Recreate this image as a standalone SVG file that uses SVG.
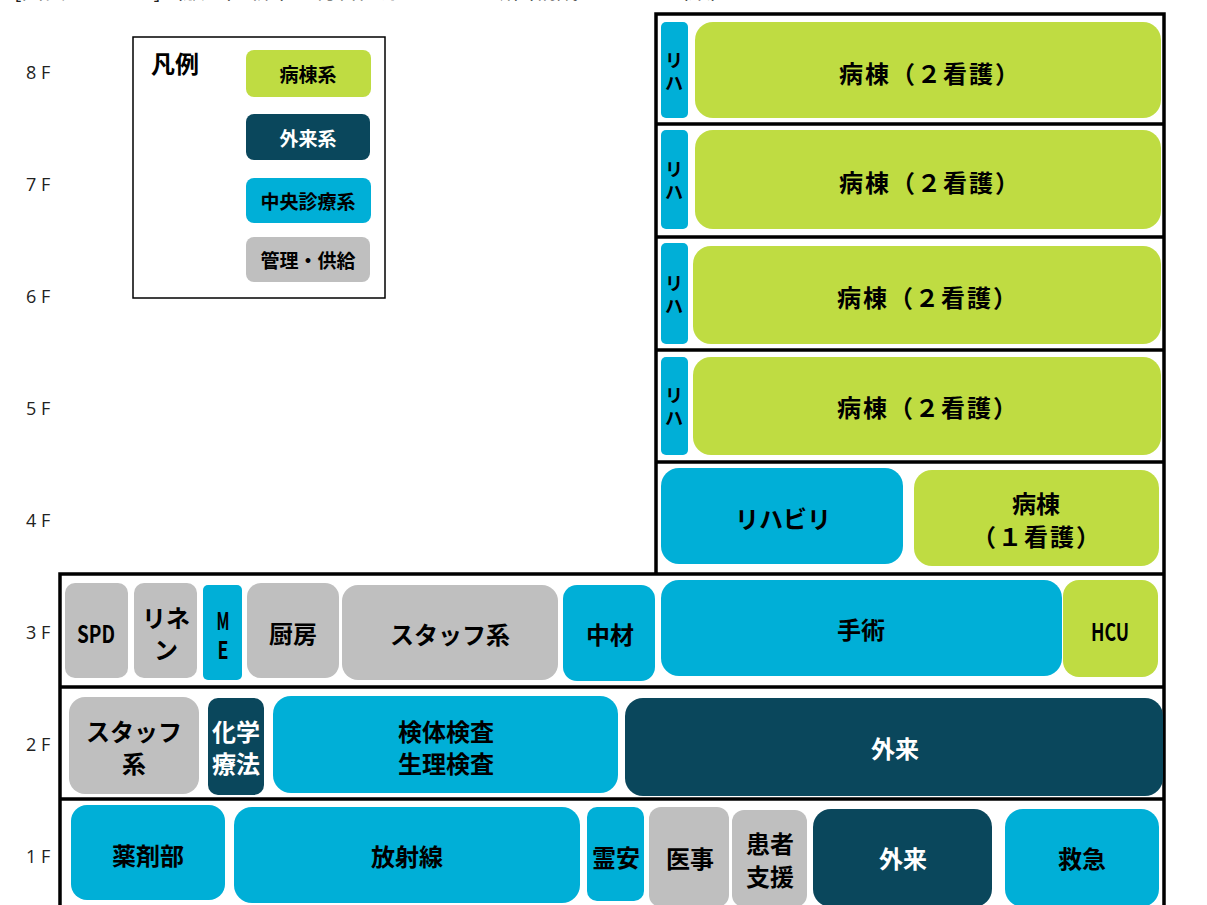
<svg xmlns="http://www.w3.org/2000/svg" width="1207" height="905" viewBox="0 0 1207 905">
<style>
.g{fill:#BFDC42}
.c{fill:#00AFD7}
.d{fill:#0A475C}
.s{fill:#BFBFBF}
.t{font-family:"Noto Sans CJK JP","Noto Sans",sans-serif;font-weight:bold;font-size:24px;fill:#000;text-anchor:middle;dominant-baseline:central}
.tw{fill:#fff}
.tl{font-size:19px}
.v{font-size:18px}
.ls{letter-spacing:2px}
.fl{font-family:"Open Sans","Noto Sans",sans-serif;font-size:18px;fill:#222}
.frame{fill:none;stroke:#000;stroke-width:3.5}
</style>
<rect width="1207" height="905" fill="#fff"/>
<text x="14" y="-2" font-family="Noto Sans CJK JP, sans-serif" font-size="22" fill="#222">[図表　　　　]（敷地）新市立総合医療センター断面構成イメージ（案）</text>

<g id="floor-labels">
<text class="fl" x="26" y="79">8 F</text>
<text class="fl" x="26" y="191">7 F</text>
<text class="fl" x="26" y="303">6 F</text>
<text class="fl" x="26" y="415">5 F</text>
<text class="fl" x="26" y="527">4 F</text>
<text class="fl" x="26" y="639">3 F</text>
<text class="fl" x="26" y="751">2 F</text>
<text class="fl" x="26" y="863">1 F</text>
</g>

<g id="legend">
<rect x="133" y="37" width="252" height="261" fill="#fff" stroke="#000" stroke-width="1.5"/>
<text class="t" x="175" y="62" font-size="22">凡例</text>
<rect class="g" x="246" y="50" width="125" height="47" rx="8"/>
<text class="t tl" x="308" y="73">病棟系</text>
<rect class="d" x="246" y="114" width="124" height="46" rx="8"/>
<text class="t tl tw" x="308" y="137">外来系</text>
<rect class="c" x="246" y="178" width="125" height="45" rx="8"/>
<text class="t tl" x="308" y="200">中央診療系</text>
<rect class="s" x="246" y="237" width="124" height="45" rx="8"/>
<text class="t tl" x="308" y="259">管理・供給</text>
</g>

<g id="connectors">
<path class="frame" d="M656 573 V14 H1164 V905 M656 124 H1164 M656 237 H1164 M656 350 H1164 M656 462 H1164 M60 905 V574 H1164 M60 687 H1164 M60 799 H1164"/>
</g>

<g id="f8-riha"><rect class="c" x="661" y="22" width="27" height="96" rx="5"/><text class="t v"><tspan x="674" y="59">リ</tspan><tspan x="674" y="82">ハ</tspan></text></g>
<g id="f8-ward"><rect class="g" x="695" y="22" width="466" height="96" rx="18"/><text class="t ls" x="930" y="72">病棟（２看護）</text></g>
<g id="f7-riha"><rect class="c" x="661" y="130" width="27" height="99" rx="5"/><text class="t v"><tspan x="674" y="168">リ</tspan><tspan x="674" y="191">ハ</tspan></text></g>
<g id="f7-ward"><rect class="g" x="695" y="130" width="466" height="99" rx="18"/><text class="t ls" x="930" y="181">病棟（２看護）</text></g>
<g id="f6-riha"><rect class="c" x="661" y="243" width="27" height="101" rx="5"/><text class="t v"><tspan x="674" y="282">リ</tspan><tspan x="674" y="305">ハ</tspan></text></g>
<g id="f6-ward"><rect class="g" x="693" y="246" width="468" height="98" rx="18"/><text class="t ls" x="928" y="296">病棟（２看護）</text></g>
<g id="f5-riha"><rect class="c" x="661" y="357" width="27" height="98" rx="5"/><text class="t v"><tspan x="674" y="394">リ</tspan><tspan x="674" y="417">ハ</tspan></text></g>
<g id="f5-ward"><rect class="g" x="693" y="357" width="468" height="98" rx="18"/><text class="t ls" x="928" y="406">病棟（２看護）</text></g>
<g id="f4-rehab"><rect class="c" x="661" y="468" width="242" height="96" rx="18"/><text class="t" x="783" y="517">リハビリ</text></g>
<g id="f4-ward"><rect class="g" x="914" y="470" width="245" height="96" rx="18"/><text class="t"><tspan x="1036" y="502">病棟</tspan><tspan class="ls" x="1037" y="535">（１看護）</tspan></text></g>

<g id="f3-spd"><rect class="s" x="65" y="583" width="63" height="95" rx="10"/><text class="t" x="96" y="632" font-size="22" textLength="38" lengthAdjust="spacingAndGlyphs">SPD</text></g>
<g id="f3-linen"><rect class="s" x="134" y="583" width="63" height="95" rx="10"/><text class="t"><tspan x="166" y="616">リネ</tspan><tspan x="166" y="648">ン</tspan></text></g>
<g id="f3-me"><rect class="c" x="203" y="585" width="39" height="95" rx="5"/><text class="t" font-size="22"><tspan x="223" y="619" textLength="13" lengthAdjust="spacingAndGlyphs">M</tspan><tspan x="223" y="648" textLength="11" lengthAdjust="spacingAndGlyphs">E</tspan></text></g>
<g id="f3-kitchen"><rect class="s" x="247" y="583" width="92" height="95" rx="14"/><text class="t" x="293" y="632">厨房</text></g>
<g id="f3-staff"><rect class="s" x="342" y="585" width="216" height="95" rx="16"/><text class="t" x="450" y="633">スタッフ系</text></g>
<g id="f3-chuzai"><rect class="c" x="563" y="585" width="92" height="96" rx="14"/><text class="t" x="610" y="633">中材</text></g>
<g id="f3-surgery"><rect class="c" x="661" y="580" width="401" height="96" rx="18"/><text class="t" x="861" y="628">手術</text></g>
<g id="f3-hcu"><rect class="g" x="1063" y="580" width="95" height="97" rx="16"/><text class="t" x="1110" y="630" font-size="22" textLength="38" lengthAdjust="spacingAndGlyphs">HCU</text></g>

<g id="f2-staff"><rect class="s" x="69" y="697" width="130" height="97" rx="16"/><text class="t"><tspan x="134" y="730">スタッフ</tspan><tspan x="134" y="762">系</tspan></text></g>
<g id="f2-chemo"><rect class="d" x="208" y="698" width="56" height="97" rx="10"/><text class="t tw"><tspan x="236" y="730">化学</tspan><tspan x="236" y="762">療法</tspan></text></g>
<g id="f2-lab"><rect class="c" x="273" y="696" width="345" height="97" rx="18"/><text class="t"><tspan x="446" y="730">検体検査</tspan><tspan x="446" y="762">生理検査</tspan></text></g>
<g id="f2-outpatient"><rect class="d" x="625" y="698" width="538" height="98" rx="18"/><text class="t tw" x="895" y="747">外来</text></g>

<g id="f1-pharmacy"><rect class="c" x="71" y="805" width="154" height="95" rx="16"/><text class="t" x="148" y="854">薬剤部</text></g>
<g id="f1-radiology"><rect class="c" x="234" y="807" width="346" height="96" rx="18"/><text class="t" x="407" y="855">放射線</text></g>
<g id="f1-morgue"><rect class="c" x="587" y="807" width="57" height="94" rx="10"/><text class="t" x="616" y="856">霊安</text></g>
<g id="f1-medaffairs"><rect class="s" x="649" y="807" width="80" height="100" rx="12"/><text class="t" x="690" y="857">医事</text></g>
<g id="f1-support"><rect class="s" x="732" y="810" width="75" height="97" rx="12"/><text class="t"><tspan x="770" y="842">患者</tspan><tspan x="770" y="875">支援</tspan></text></g>
<g id="f1-outpatient"><rect class="d" x="813" y="809" width="179" height="98" rx="18"/><text class="t tw" x="903" y="857">外来</text></g>
<g id="f1-emergency"><rect class="c" x="1005" y="809" width="154" height="98" rx="18"/><text class="t" x="1082" y="857">救急</text></g>
</svg>
